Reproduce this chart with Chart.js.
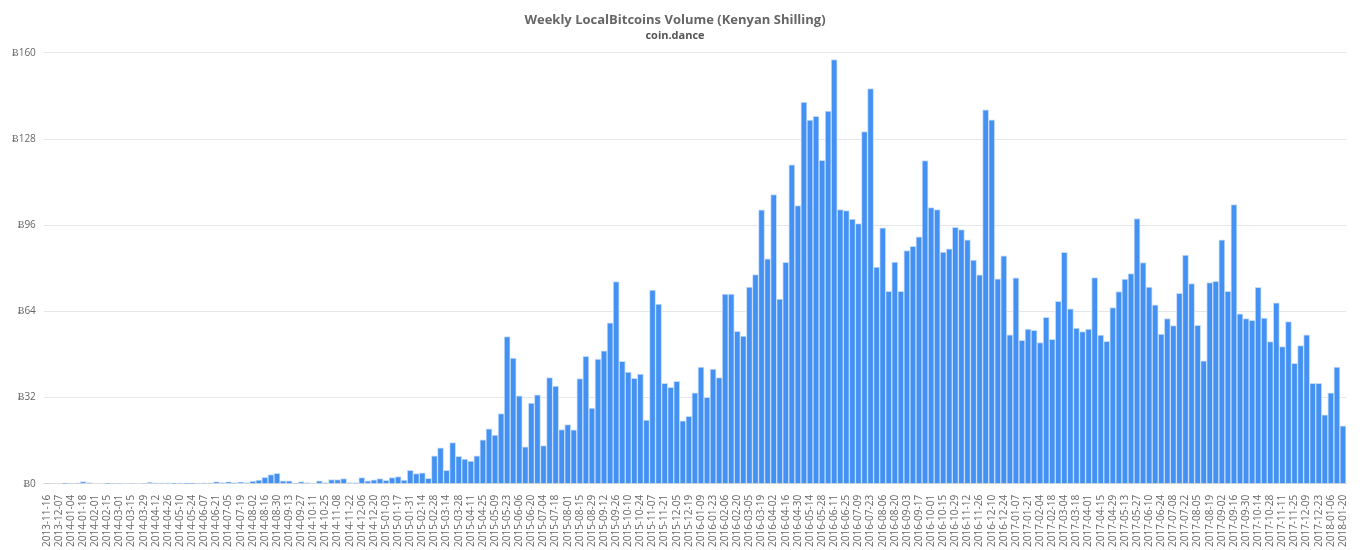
<!DOCTYPE html>
<html>
<head>
<meta charset="utf-8">
<script src="https://cdn.jsdelivr.net/npm/chart.js@4"></script>
<style>
  body { margin: 0; background: #fff; }
  #wrap { width: 1360px; height: 550px; }
</style>
</head>
<body>
<div id="wrap"><canvas id="volumeChart"></canvas></div>
<script>
const firstWeeks = ['2013-11-16', '2013-11-30', '2013-12-07', '2013-12-21'];
const missingWeeks = ['2016-01-02'];
const volumes = [
  0.2, 0, 0, 0.1, 0.2, 0.3, 0.8, 0.4, 0, 0, 0.1, 0.2, 0.2, 0, 0.2, 0, 0.2, 0.5, 0.3,
  0.3, 0.3, 0.1, 0.3, 0.1, 0.1, 0.2, 0.3, 0.3, 0.7, 0.4, 0.7, 0.4, 0.6, 0.4, 1.0, 1.4, 2.4, 3.4, 3.9,
  1.1, 1.1, 0.2, 0.7, 0.4, 0, 1.1, 0.4, 1.6, 1.6, 1.9, 0.4, 0.4, 2.3, 1.1, 1.5, 1.9, 1.3, 2.3, 2.7,
  1.4, 5.0, 3.8, 4.1, 2.0, 10.4, 13.4, 5.0, 15.3, 10.2, 9.2, 8.4, 10.4, 16.3, 20.4, 18.1, 26.1, 54.7, 46.7, 32.7,
  13.7, 30.0, 33.0, 14.2, 39.4, 36.3, 20.1, 22.0, 20.0, 39.1, 47.3, 28.1, 46.3, 49.4, 59.8, 75.1, 45.5, 41.5, 39.2, 40.7,
  23.7, 71.9, 66.7, 37.3, 35.8, 38.0, 23.4, 25.1, 33.8, 43.3, 32.1, 42.6, 39.4, 70.4, 70.4, 56.6, 54.8, 73.0, 77.7, 101.7,
  83.5, 107.4, 68.6, 82.2, 118.4, 103.3, 141.7, 135.0, 136.4, 120.1, 138.4, 157.5, 101.8, 101.4, 98.3, 96.6, 130.8, 146.7, 80.5, 95.0,
  71.5, 82.3, 71.5, 86.6, 88.2, 91.7, 120.0, 102.5, 101.8, 86.0, 87.2, 95.2, 94.4, 90.6, 83.1, 77.6, 138.8, 135.1, 76.1, 84.6,
  55.3, 76.5, 53.3, 57.4, 57.0, 52.4, 61.8, 53.6, 67.7, 85.9, 65.0, 57.8, 56.5, 57.4, 76.6, 55.2, 52.9, 65.4, 71.4, 76.0,
  78.0, 98.5, 82.1, 73.0, 66.4, 55.6, 61.3, 58.7, 70.7, 84.9, 74.3, 58.8, 45.7, 74.7, 75.2, 90.6, 71.5, 103.7, 63.1, 61.3,
  60.7, 72.9, 61.5, 52.8, 67.2, 50.9, 60.2, 44.7, 51.3, 55.3, 37.3, 37.3, 25.6, 33.8, 43.3, 21.5
];
const yTicks = [0, 32, 64, 96, 128, 160];

// weekly labels from 2014-01-04 onward (one week has no data)
const weeks = [...firstWeeks];
let d = new Date(Date.UTC(2014, 0, 4));
while (weeks.length < volumes.length) {
  const s = d.toISOString().slice(0, 10);
  if (!missingWeeks.includes(s)) weeks.push(s);
  d.setUTCDate(d.getUTCDate() + 7);
}

const ctx = document.getElementById('volumeChart').getContext('2d');
new Chart(ctx, {
  type: 'bar',
  data: {
    labels: weeks,
    datasets: [{
      label: 'Volume',
      data: volumes,
      backgroundColor: '#4391f3',
      borderColor: '#c6dcfb',
      borderWidth: 1,
      categoryPercentage: 1,
      barPercentage: 1
    }]
  },
  options: {
    responsive: true,
    maintainAspectRatio: false,
    animation: false,
    layout: { padding: { left: 4, right: 14, top: 4, bottom: 0 } },
    plugins: {
      legend: { display: false },
      title: {
        display: true,
        text: 'Weekly LocalBitcoins Volume (Kenyan Shilling)',
        color: '#666',
        font: { family: 'Open Sans', size: 13, weight: 'bold' },
        padding: { top: 8, bottom: 2 }
      },
      subtitle: {
        display: true,
        text: 'coin.dance',
        color: '#555',
        font: { family: 'Open Sans', size: 11, weight: 'bold' },
        padding: { bottom: 10 }
      }
    },
    scales: {
      x: {
        grid: { display: false },
        border: { color: '#ddd' },
        ticks: {
          autoSkip: false,
          maxRotation: 90,
          minRotation: 90,
          color: '#666',
          font: { family: 'Open Sans', size: 10 },
          callback: function (v, i) { return i % 2 === 0 ? this.getLabelForValue(v) : ''; }
        }
      },
      y: {
        min: 0,
        max: 160,
        afterBuildTicks: axis => { axis.ticks = yTicks.map(v => ({ value: v })); },
        grid: { color: '#e6e6e6', drawTicks: false },
        border: { display: false },
        ticks: {
          color: '#666',
          padding: 8,
          font: { family: 'Open Sans', size: 10 },
          callback: v => 'Ƀ' + v
        }
      }
    }
  }
});
</script>
</body>
</html>
